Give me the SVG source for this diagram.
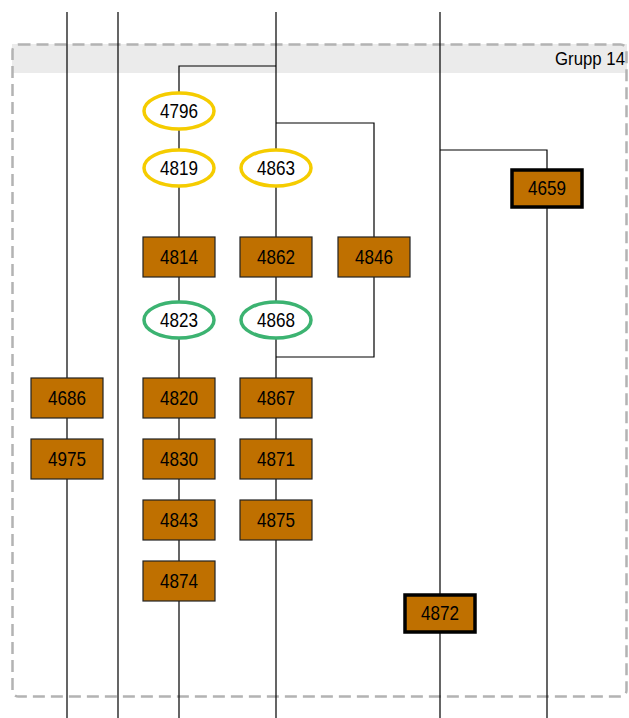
<svg xmlns="http://www.w3.org/2000/svg" width="629" height="718" viewBox="0 0 629 718">
<style>
.ln{stroke:#000;stroke-width:1.2;fill:none}
.box{fill:#bf7000;stroke:#222;stroke-width:1.2}
.boxb{fill:#bf7000;stroke:#000;stroke-width:3.5}
.ey{fill:#fff;stroke:#f5cc00;stroke-width:3.5}
.eg{fill:#fff;stroke:#3cb371;stroke-width:3.5}
.t{font-family:"Liberation Sans",Arial,sans-serif;font-size:21px;fill:#000;text-anchor:middle;dominant-baseline:central}
</style>
<g id="group14">
<rect x="12" y="44" width="615" height="29" fill="#ebebeb"/>
<rect x="12.5" y="44.5" width="614" height="652" rx="6" fill="none" stroke="#b3b3b3" stroke-width="2.5" stroke-dasharray="12,6"/>
<text x="625" y="59" font-family="Liberation Sans,Arial,sans-serif" font-size="18" text-anchor="end" dominant-baseline="central" textLength="70" lengthAdjust="spacingAndGlyphs">Grupp 14</text>
</g>
<g id="connectors">
<path class="ln" d="M67 12V718M118 12V718M276 12V718M440 12V718"/>
<path class="ln" d="M276 66H179V718"/>
<path class="ln" d="M276 123H374V357H276"/>
<path class="ln" d="M440 150H547V718"/>
</g>
<g id="n4796"><ellipse class="ey" cx="179" cy="111" rx="35" ry="18"/><text class="t" x="179" y="110" textLength="38" lengthAdjust="spacingAndGlyphs">4796</text></g>
<g id="n4819"><ellipse class="ey" cx="179" cy="168" rx="35" ry="18"/><text class="t" x="179" y="167" textLength="38" lengthAdjust="spacingAndGlyphs">4819</text></g>
<g id="n4863"><ellipse class="ey" cx="276" cy="168" rx="35" ry="18"/><text class="t" x="276" y="167" textLength="38" lengthAdjust="spacingAndGlyphs">4863</text></g>
<g id="n4814"><rect class="box" x="143" y="237" width="72" height="40"/><text class="t" x="179" y="256" textLength="38" lengthAdjust="spacingAndGlyphs">4814</text></g>
<g id="n4862"><rect class="box" x="240" y="237" width="72" height="40"/><text class="t" x="276" y="256" textLength="38" lengthAdjust="spacingAndGlyphs">4862</text></g>
<g id="n4846"><rect class="box" x="338" y="237" width="72" height="40"/><text class="t" x="374" y="256" textLength="38" lengthAdjust="spacingAndGlyphs">4846</text></g>
<g id="n4823"><ellipse class="eg" cx="179" cy="320" rx="35" ry="18"/><text class="t" x="179" y="319" textLength="38" lengthAdjust="spacingAndGlyphs">4823</text></g>
<g id="n4868"><ellipse class="eg" cx="276" cy="320" rx="35" ry="18"/><text class="t" x="276" y="319" textLength="38" lengthAdjust="spacingAndGlyphs">4868</text></g>
<g id="n4686"><rect class="box" x="31" y="378" width="72" height="40"/><text class="t" x="67" y="397" textLength="38" lengthAdjust="spacingAndGlyphs">4686</text></g>
<g id="n4820"><rect class="box" x="143" y="378" width="72" height="40"/><text class="t" x="179" y="397" textLength="38" lengthAdjust="spacingAndGlyphs">4820</text></g>
<g id="n4867"><rect class="box" x="240" y="378" width="72" height="40"/><text class="t" x="276" y="397" textLength="38" lengthAdjust="spacingAndGlyphs">4867</text></g>
<g id="n4975"><rect class="box" x="31" y="439" width="72" height="40"/><text class="t" x="67" y="458" textLength="38" lengthAdjust="spacingAndGlyphs">4975</text></g>
<g id="n4830"><rect class="box" x="143" y="439" width="72" height="40"/><text class="t" x="179" y="458" textLength="38" lengthAdjust="spacingAndGlyphs">4830</text></g>
<g id="n4871"><rect class="box" x="240" y="439" width="72" height="40"/><text class="t" x="276" y="458" textLength="38" lengthAdjust="spacingAndGlyphs">4871</text></g>
<g id="n4843"><rect class="box" x="143" y="500" width="72" height="40"/><text class="t" x="179" y="519" textLength="38" lengthAdjust="spacingAndGlyphs">4843</text></g>
<g id="n4875"><rect class="box" x="240" y="500" width="72" height="40"/><text class="t" x="276" y="519" textLength="38" lengthAdjust="spacingAndGlyphs">4875</text></g>
<g id="n4874"><rect class="box" x="143" y="561" width="72" height="40"/><text class="t" x="179" y="580" textLength="38" lengthAdjust="spacingAndGlyphs">4874</text></g>
<g id="n4659"><rect class="boxb" x="512" y="170" width="70" height="37"/><text class="t" x="547" y="187" textLength="38" lengthAdjust="spacingAndGlyphs">4659</text></g>
<g id="n4872"><rect class="boxb" x="405" y="595" width="70" height="37"/><text class="t" x="440" y="612" textLength="38" lengthAdjust="spacingAndGlyphs">4872</text></g>
</svg>
